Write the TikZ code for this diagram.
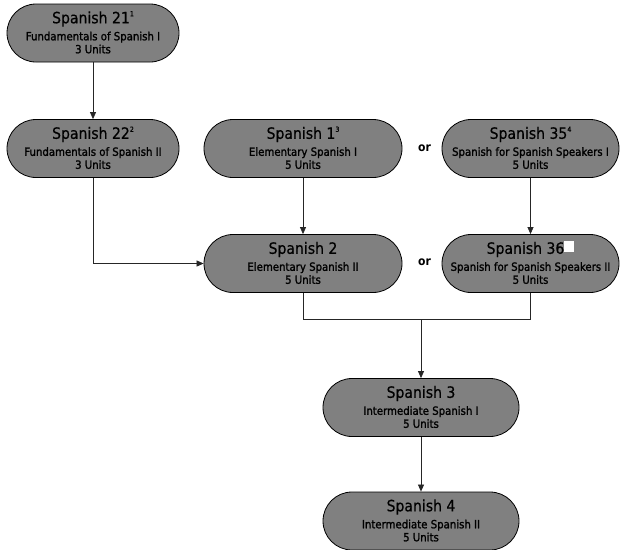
\documentclass[tikz,border=0pt]{standalone}
\usepackage{fontspec}
\setmainfont{DejaVu Sans Condensed}
\usetikzlibrary{arrows.meta}
\definecolor{boxgray}{RGB}{128,128,128}
\tikzset{
  box/.style={draw=black, line width=0.8pt, fill=boxgray, rounded corners=29pt, minimum height=58pt, inner sep=0pt},
  ttl/.style={font=\fontsize{15.6}{18}\selectfont\addfontfeature{FakeBold=0.5}, anchor=base, inner sep=0pt},
  sub/.style={font=\fontsize{11.3}{13}\selectfont\addfontfeature{FakeBold=1.5}, anchor=base, inner sep=0pt},
  orlab/.style={font=\bfseries\fontsize{12}{14}\selectfont, inner sep=0pt},
  conn/.style={draw=black!85, line width=0.7pt},
  arr/.style={conn, -{Triangle[length=7pt,width=6pt]}},
}
\newcommand\supr[1]{\raisebox{0.45em}{\fontsize{7}{7}\selectfont #1}}
% name, cx, cy, width, title, sub1, sub2
\newcommand\course[7]{%
  \node[box, minimum width=#4pt] (#1) at (#2,#3) {};
  \node[ttl] (#1t) at ([yshift=9.7pt]#1.center) {#5};
  \node[sub] (#1a) at ([yshift=-7.3pt]#1.center) {#6};
  \node[sub] (#1b) at ([yshift=-20.3pt]#1.center) {#7};
}
\begin{document}
\begin{tikzpicture}[x=1pt,y=-1pt]
\useasboundingbox (0,0) rectangle (620,549);
\course{s21}{93}{33}{172}{Spanish 21\supr{1}}{Fundamentals of Spanish I}{3 Units}
\course{s22}{93}{148.5}{172}{Spanish 22\supr{2}}{Fundamentals of Spanish II}{3 Units}
\course{s1}{303}{148.5}{198}{Spanish 1\supr{3}}{Elementary Spanish I}{5 Units}
\course{s35}{530.5}{148.5}{177}{Spanish 35\supr{4}}{Spanish for Spanish Speakers I}{5 Units}
\course{s2}{303}{263.5}{198}{Spanish 2}{Elementary Spanish II}{5 Units}
\course{s36}{530.5}{263.5}{177}{Spanish 36\raisebox{0.1em}{\textcolor{white}{\rule{10pt}{11pt}}}}{Spanish for Spanish Speakers II}{5 Units}
\course{s3}{421}{407.5}{196}{Spanish 3}{Intermediate Spanish I}{5 Units}
\course{s4}{421}{521}{196}{Spanish 4}{Intermediate Spanish II}{5 Units}
\node[orlab] (or1) at (424.5,148) {or};
\node[orlab] (or2) at (424.5,262) {or};
\coordinate (j1) at (s2.south |- 0,319);
\coordinate (j2) at (s36.south |- 0,319);
\coordinate (j3) at (s3.north |- 0,319);
\draw[arr] (s21) -- (s22);
\draw[arr] (s22.south) |- (s2.west);
\draw[arr] (s1) -- (s2);
\draw[arr] (s35) -- (s36);
\draw[conn] (s2.south) -- (j1) -- (j2) -- (s36.south);
\draw[arr] (j3) -- (s3.north);
\draw[arr] (s3) -- (s4);
\end{tikzpicture}
\end{document}
